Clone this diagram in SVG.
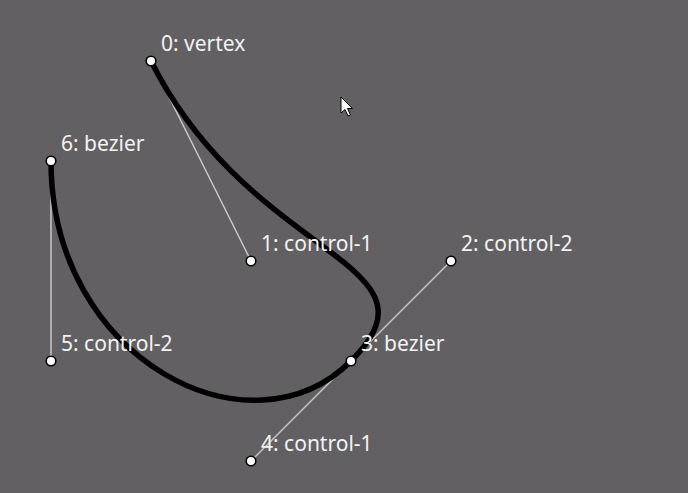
<svg xmlns="http://www.w3.org/2000/svg" width="688" height="493" viewBox="0 0 688 493">
<style>
.lbl{font-family:"Noto Sans","Open Sans",sans-serif;font-size:21px;fill:#f2f2f2}
.ctl{stroke:#c8c8c8;stroke-width:1.5;fill:none}
.pt{fill:#fff;stroke:#000;stroke-width:1.6}
</style>
<rect width="688" height="493" fill="#636063"/>
<g id="connectors">
<line class="ctl" x1="151" y1="61" x2="251" y2="261"/>
<line class="ctl" x1="451" y1="261" x2="251" y2="461"/>
<line class="ctl" x1="51" y1="161" x2="51" y2="361"/>
<path d="M151,61 C251,261 451,261 351,361 C251,461 51,361 51,161" fill="none" stroke="#000" stroke-width="5.5"/>
</g>
<g id="n0"><circle class="pt" cx="151" cy="61" r="4.8"/><text class="lbl" x="161" y="51">0: vertex</text></g>
<g id="n1"><circle class="pt" cx="251" cy="261" r="4.8"/><text class="lbl" x="261" y="251">1: control-1</text></g>
<g id="n2"><circle class="pt" cx="451" cy="261" r="4.8"/><text class="lbl" x="461" y="251">2: control-2</text></g>
<g id="n3"><circle class="pt" cx="351" cy="361" r="4.8"/><text class="lbl" x="361" y="351">3: bezier</text></g>
<g id="n4"><circle class="pt" cx="251" cy="461" r="4.8"/><text class="lbl" x="261" y="451">4: control-1</text></g>
<g id="n5"><circle class="pt" cx="51" cy="361" r="4.8"/><text class="lbl" x="61" y="351">5: control-2</text></g>
<g id="n6"><circle class="pt" cx="51" cy="161" r="4.8"/><text class="lbl" x="61" y="151">6: bezier</text></g>
<path d="M341,97 L341,113 L345,109.5 L348,116 L350.5,115 L347.5,108.5 L352.5,108.5 Z" fill="#fff" stroke="#000" stroke-width="1"/>
</svg>
